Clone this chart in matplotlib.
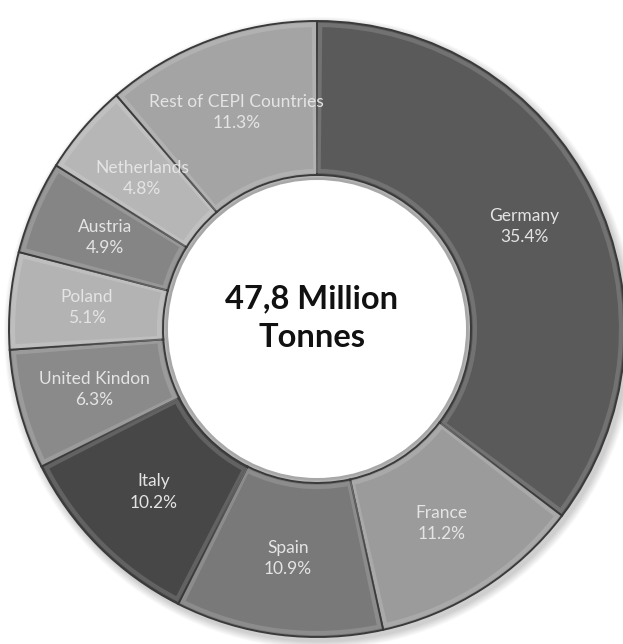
import matplotlib.pyplot as plt
from matplotlib.patches import Circle, Wedge
import numpy as np

countries = ["Germany", "France", "Spain", "Italy", "United Kindon", "Poland",
             "Austria", "Netherlands", "Rest of CEPI Countries"]
shares = [35.4, 11.2, 10.9, 10.2, 6.3, 5.1, 4.9, 4.8, 11.3]
greys = ["#5a5a5a", "#9b9b9b", "#797979", "#474747", "#8a8a8a", "#b3b3b3",
         "#858585", "#b6b6b6", "#a4a4a4"]
total_text = "47,8 Million\nTonnes"

W, H = 623, 644
cx, cy = 317, 329          # ring centre in pixels from top-left
r_out, r_in = 308, 154

fig = plt.figure(figsize=(W / 100, H / 100), dpi=100)
ax = fig.add_axes([0, 0, 1, 1])

# soft drop shadow behind the ring
for k in range(8):
    ax.add_patch(Circle((3, -4), r_out + 8 - k, color="#000000", alpha=0.025, lw=0, zorder=0))
# keep the hole white, with a faint inner shadow
for k in range(5):
    ax.add_patch(Circle((0, 0), r_in + 1 - k, color="#000000", alpha=0.04, lw=0, zorder=0.5))
ax.add_patch(Circle((0, 0), r_in - 5, color="white", lw=0, zorder=0.6))

wedges, _ = ax.pie(shares, colors=greys, startangle=90, counterclock=False,
                   radius=r_out, center=(0, 0),
                   wedgeprops=dict(width=r_out - r_in, edgecolor="#3a3a3a", linewidth=1.4))

# bevel: light rim just inside each segment
for w in wedges:
    hl = Wedge((0, 0), r_out - 4, w.theta1 + 0.6, w.theta2 - 0.6, width=r_out - r_in - 8,
               facecolor="none", edgecolor="white", alpha=0.15, linewidth=3)
    ax.add_patch(hl)

r_mid = (r_out + r_in) / 2
for w, name, val in zip(wedges, countries, shares):
    ang = np.deg2rad((w.theta1 + w.theta2) / 2)
    x, y = r_mid * np.cos(ang), r_mid * np.sin(ang)
    ax.text(x, y, f"{name}\n{val}%", ha="center", va="center", color="#e4e4e4",
            fontsize=12.5, family="Lato", linespacing=1.4)

ax.text(-5, 11, total_text, ha="center", va="center", fontsize=23.5, fontweight="bold",
        family="Lato", color="#111111", linespacing=1.42)

ax.set_xlim(-cx, W - cx)
ax.set_ylim(-(H - cy), cy)
ax.set_aspect("equal")
ax.axis("off")

fig.savefig("out.png", dpi=100, facecolor="white")
